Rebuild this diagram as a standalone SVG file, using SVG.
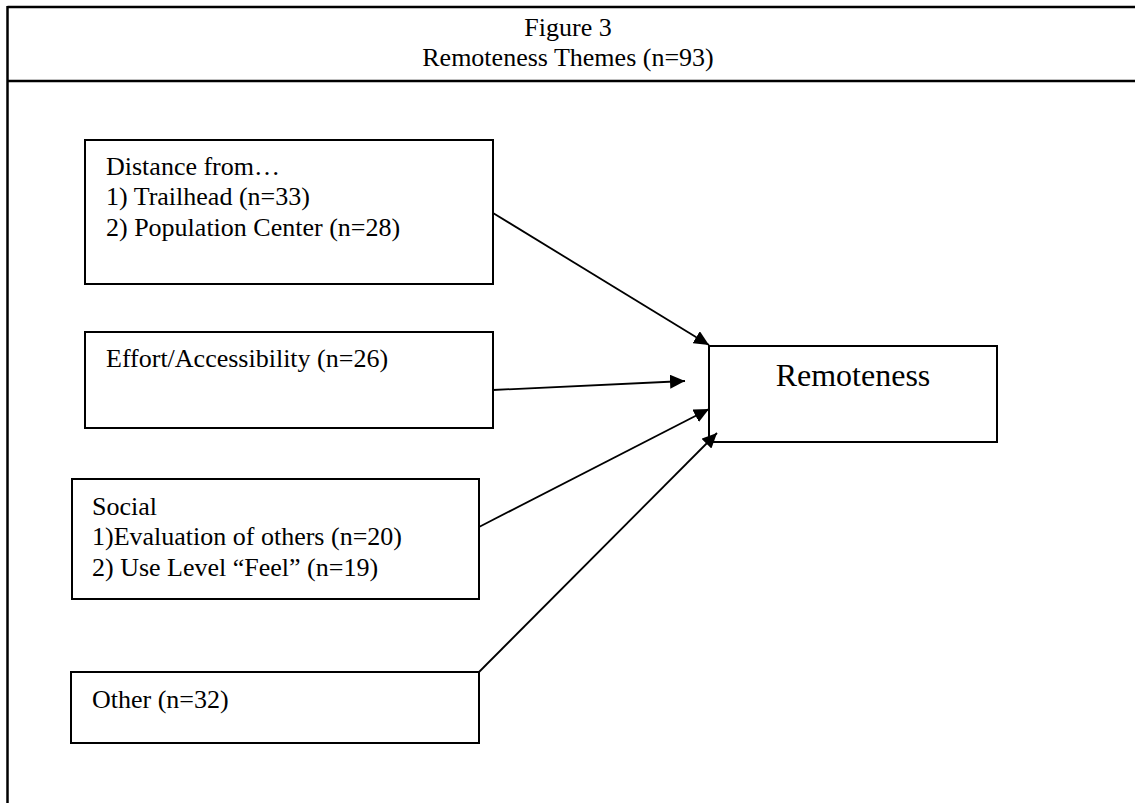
<svg xmlns="http://www.w3.org/2000/svg" width="1135" height="803" viewBox="0 0 1135 803">
<style>
.t{font-family:"Liberation Serif","Times New Roman",serif;font-size:26px;fill:#000}
.box{fill:#fff;stroke:#000;stroke-width:2}
.frame{stroke:#000;stroke-width:2.5;fill:none}
.conn{stroke:#000;stroke-width:1.8;fill:none}
</style>
<defs>
<marker id="ah" markerUnits="userSpaceOnUse" markerWidth="16" markerHeight="14" refX="15" refY="7" orient="auto">
<path d="M0,0 L15,7 L0,14 z" fill="#000"/>
</marker>
</defs>
<rect width="1135" height="803" fill="#fff"/>
<g id="frame">
<line class="frame" x1="7.5" y1="7" x2="1135" y2="7"/>
<line class="frame" x1="7.5" y1="81" x2="1135" y2="81"/>
<line class="frame" x1="7.5" y1="6" x2="7.5" y2="803"/>
<text class="t" x="568" y="36" text-anchor="middle">Figure 3</text>
<text class="t" x="568" y="66" text-anchor="middle">Remoteness Themes (n=93)</text>
</g>
<g id="node-distance">
<rect class="box" x="85" y="140" width="408" height="144"/>
<text class="t" x="106" y="175">Distance from…</text>
<text class="t" x="106" y="205">1) Trailhead (n=33)</text>
<text class="t" x="106" y="236">2) Population Center (n=28)</text>
</g>
<g id="node-effort">
<rect class="box" x="85" y="332" width="408" height="96"/>
<text class="t" x="106" y="367">Effort/Accessibility (n=26)</text>
</g>
<g id="node-social">
<rect class="box" x="72" y="479" width="407" height="120"/>
<text class="t" x="92" y="515">Social</text>
<text class="t" x="92" y="545">1)Evaluation of others (n=20)</text>
<text class="t" x="92" y="576">2) Use Level “Feel” (n=19)</text>
</g>
<g id="node-other">
<rect class="box" x="71" y="672" width="408" height="71"/>
<text class="t" x="92" y="708">Other (n=32)</text>
</g>
<g id="node-remoteness">
<rect class="box" x="709" y="346" width="288" height="96"/>
<text class="t" x="853" y="386" text-anchor="middle" style="font-size:32px">Remoteness</text>
</g>
<g id="connectors">
<line class="conn" x1="493" y1="213" x2="709" y2="345" marker-end="url(#ah)"/>
<line class="conn" x1="493" y1="390" x2="685" y2="381" marker-end="url(#ah)"/>
<line class="conn" x1="479" y1="527" x2="709" y2="409" marker-end="url(#ah)"/>
<line class="conn" x1="479" y1="672" x2="717" y2="433" marker-end="url(#ah)"/>
</g>
</svg>
